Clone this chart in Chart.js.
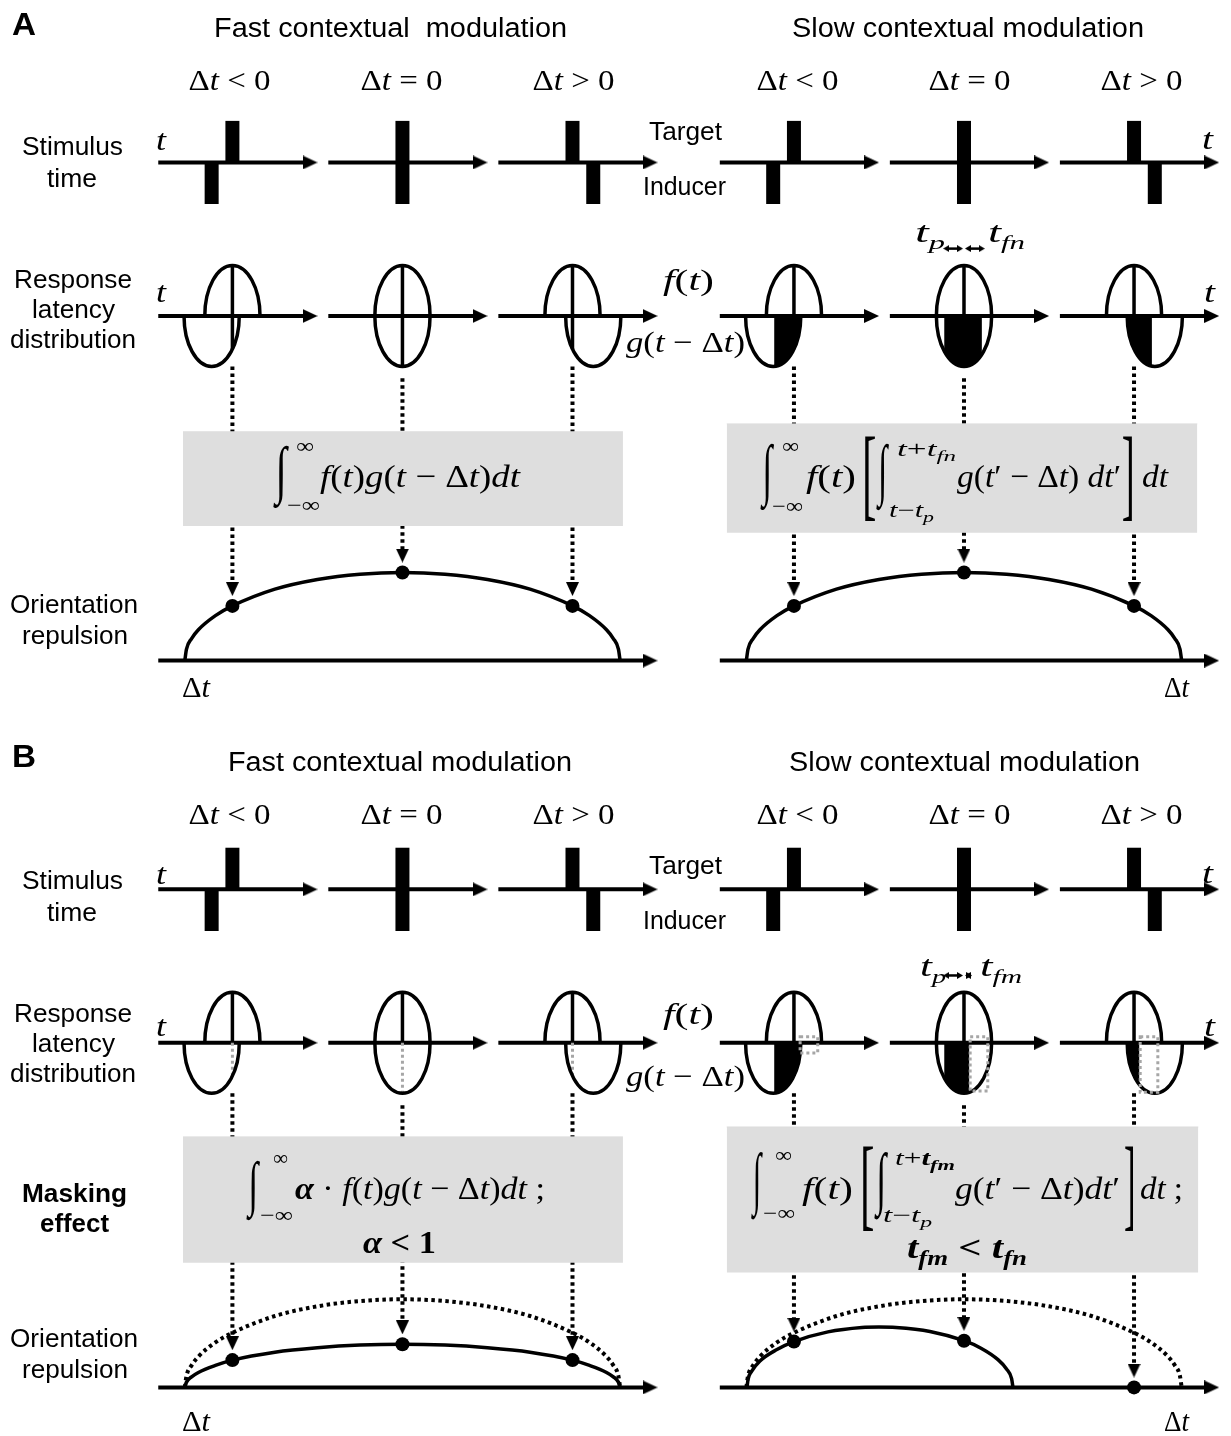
<!DOCTYPE html>
<html>
<head>
<meta charset="utf-8">
<script src="https://cdn.jsdelivr.net/npm/chart.js@4.4.1/dist/chart.umd.min.js"></script>
<style>
  html, body { margin: 0; padding: 0; background: #fff; }
  #wrap { position: relative; width: 1231px; height: 1436px; }
  #fig, #labels { position: absolute; left: 0; top: 0; }
  .sans { font-family: 'Liberation Sans', Arial, sans-serif; }
  .serif { font-family: 'Liberation Serif', 'Times New Roman', serif; }
  svg text { white-space: pre; }
</style>
</head>
<body>
<div id="wrap">
  <canvas id="fig" width="1231" height="1436" style="width:1231px;height:1436px"></canvas>
  <svg id="labels" width="1231" height="1436" xmlns="http://www.w3.org/2000/svg"></svg>
</div>
<script>
// ---- data ----
const deltaT = [-1, 0, 1];
const deltaTRel = ['&lt;', '=', '&gt;'];
const panelIds = ['A', 'B'];
const sideIds = ['fast', 'slow'];
const titles = {
  A: ['Fast contextual  modulation', 'Slow contextual modulation'],
  B: ['Fast contextual modulation', 'Slow contextual modulation']
};

// latency distributions f(t) and g(t - Δt): half width, in units of the target/inducer offset
const latencyHalfWidth = 1.33;
// integration window of the slow modulation (same units)
const tP = 0.95, tFn = 0.86, tFm = 0.25;

// orientation repulsion against Δt (Δt in condition steps)
const tuningDt  = [-1.28, -1.27, -1.24, -1.2, -1.1, -1.0, -0.75, -0.5, -0.25, 0, 0.25, 0.5, 0.75, 1.0, 1.1, 1.2, 1.24, 1.27, 1.28];
const tuningRep = [0, 0.13, 0.25, 0.35, 0.51, 0.62, 0.81, 0.92, 0.98, 1, 0.98, 0.92, 0.81, 0.62, 0.51, 0.35, 0.25, 0.13, 0];
const maskedFastRep = [0, 0.06, 0.12, 0.17, 0.25, 0.31, 0.40, 0.45, 0.48, 0.49, 0.48, 0.45, 0.40, 0.31, 0.25, 0.17, 0.12, 0.06, 0];
const maskedSlowDt  = [-1.276, -1.27, -1.25, -1.2, -1.1, -1.0, -0.8, -0.6, -0.5, -0.4, -0.2, 0, 0.1, 0.2, 0.25, 0.28, 0.288];
const maskedSlowRep = [0, 0.09, 0.18, 0.30, 0.43, 0.52, 0.63, 0.68, 0.685, 0.68, 0.635, 0.53, 0.445, 0.315, 0.21, 0.10, 0];
// repulsion read at the three conditions
const repAtDt = {
  A: { fast: [0.62, 1, 0.62], slow: [0.62, 1, 0.62] },
  B: { fast: [0.31, 0.49, 0.31], slow: [0.52, 0.53, 0] }
};

// ---- layout (figure pixels) ----
const L = {
  W: 1231, H: 1436,
  dy: { A: 0, B: 734 },
  col0: { fast: 228, slow: 796 }, colStep: 172,
  axL: 75, axR: 86,
  stimY: 157, barLen: 42, barW: 14,
  latY: 312, latRy: 51, tUnit: 21,
  repY: 660, repUnit: 89,
  tagY: 244,
  boxes: {
    A: { fast: [178, 623, 429, 524], slow: [728, 1204, 421, 531] },
    B: { fast: [178, 623, 1141, 1268], slow: [728, 1205, 1131, 1278] }
  }
};
const DOT = [3.5, 3.5];

function arrowImg(len, wid) {
  const c = document.createElement('canvas');
  c.width = len; c.height = wid;
  const g = c.getContext('2d');
  g.beginPath(); g.moveTo(0, 0); g.lineTo(len, wid / 2); g.lineTo(0, wid); g.closePath();
  g.fillStyle = '#000'; g.fill();
  return c;
}

const ds = [];
const line = (pts, o) => ds.push(Object.assign({
  type: 'line', data: pts, borderColor: '#000', borderWidth: 3.5, borderCapStyle: 'butt',
  pointRadius: 0, fill: false, tension: 0
}, o || {}));
const heads = { right: [], down: [], tagL: [], tagR: [] };
const dots = [];

panelIds.forEach(p => {
  const dy = L.dy[p];
  sideIds.forEach(s => {
    const cols = deltaT.map((d, i) => L.col0[s] + i * L.colStep);
    const mid = cols[1];
    const rep = repAtDt[p][s];

    // dotted guides from the latency row to the repulsion curve
    cols.forEach((c, i) => {
      const top = dy + L.latY + (deltaT[i] === 0 ? 63 : 51);
      const dotY = dy + L.repY - rep[i] * L.repUnit;
      const tip = dotY - 10;
      line([{ x: c, y: top }, { x: c, y: tip - 12 }], { borderWidth: 4, borderDash: DOT });
      heads.down.push({ x: c, y: tip - 7 });
      dots.push({ x: c, y: dotY });
    });

    // grey formula box
    const [bx0, bx1, by0, by1] = L.boxes[p][s];
    line([{ x: bx0, y: by0 }, { x: bx1, y: by0 }],
      { borderColor: '#dedede', borderWidth: 1, fill: { value: by1 }, backgroundColor: '#dedede' });

    // time axes
    [L.stimY, L.latY].forEach(ry => cols.forEach(c => {
      line([{ x: c - L.axL, y: dy + ry }, { x: c + L.axR - 8, y: dy + ry }], { borderWidth: 4 });
      heads.right.push({ x: c + L.axR - 7.5, y: dy + ry });
    }));
    line([{ x: cols[0] - L.axL, y: dy + L.repY }, { x: cols[2] + L.axR - 8, y: dy + L.repY }], { borderWidth: 4 });
    heads.right.push({ x: cols[2] + L.axR - 7.5, y: dy + L.repY });

    // stimulus bars: target up, inducer down shifted by Δt
    cols.forEach((c, i) => {
      const yAx = dy + L.stimY;
      line([{ x: c, y: yAx }, { x: c, y: yAx - L.barLen }], { borderWidth: L.barW });
      const ix = c + deltaT[i] * L.tUnit;
      line([{ x: ix, y: yAx }, { x: ix, y: yAx + L.barLen }], { borderWidth: L.barW });
    });

    // target peak line through the latency distributions
    cols.forEach((c, i) => {
      const yAx = dy + L.latY;
      line([{ x: c, y: yAx - L.latRy }, { x: c, y: yAx }]);
      const rx = latencyHalfWidth * L.tUnit, off = deltaT[i] * L.tUnit;
      const depth = Math.abs(off) < rx ? L.latRy * Math.sqrt(1 - (off / rx) ** 2) : 0;
      const greyed = p === 'B' && s === 'fast';
      line([{ x: c, y: yAx }, { x: c, y: yAx + depth }],
        greyed ? { borderColor: '#a6a6a6', borderDash: [3, 3], borderWidth: 3 } : {});
    });

    // repulsion curves
    const curve = (xs, ys) => xs.map((d, k) => ({ x: mid + d * L.colStep, y: dy + L.repY - ys[k] * L.repUnit }));
    if (p === 'A') {
      line(curve(tuningDt, tuningRep), { cubicInterpolationMode: 'monotone' });
    } else {
      line(curve(tuningDt, tuningRep), { cubicInterpolationMode: 'monotone', borderDash: DOT, borderWidth: 4 });
      if (s === 'fast') line(curve(tuningDt, maskedFastRep), { cubicInterpolationMode: 'monotone' });
      else line(curve(maskedSlowDt, maskedSlowRep), { cubicInterpolationMode: 'monotone' });
    }

    // small window arrows t_p <-> t_f
    if (s === 'slow') {
      const yT = dy + L.tagY;
      const a0 = mid - tP * L.tUnit - 1, a1 = mid - 1;
      const b0 = mid + 1, b1 = mid + (p === 'A' ? tFn : tFm) * L.tUnit + 3;
      [[a0, a1], [b0, b1]].forEach(([u0, u1]) => {
        line([{ x: u0 + 3, y: yT }, { x: u1 - 3, y: yT }], { borderWidth: 2.5 });
        heads.tagL.push({ x: u0 + 3, y: yT });
        heads.tagR.push({ x: u1 - 3, y: yT });
      });
    }
  });
});

ds.push({ type: 'scatter', data: dots, pointRadius: 7, pointBackgroundColor: '#000', pointBorderWidth: 0 });
ds.push({ type: 'scatter', data: heads.right, pointStyle: arrowImg(15, 14), pointRadius: 5 });
ds.push({ type: 'scatter', data: heads.down, pointStyle: arrowImg(14, 13), pointRotation: 90, pointRadius: 5 });
ds.push({ type: 'scatter', data: heads.tagR, pointStyle: arrowImg(6, 7), pointRadius: 3 });
ds.push({ type: 'scatter', data: heads.tagL, pointStyle: arrowImg(6, 7), pointRotation: 180, pointRadius: 3 });
ds.forEach((d, i) => { d.order = -i; });

// half ellipses of f and g, shaded overlap window for slow modulation
const latencyPlugin = {
  id: 'latencyShapes',
  afterDatasetsDraw(chart) {
    const { ctx } = chart, sx = chart.scales.x, sy = chart.scales.y;
    const rx = latencyHalfWidth * L.tUnit;
    ctx.save();
    panelIds.forEach(p => sideIds.forEach(s => deltaT.forEach((d, i) => {
      const c = L.col0[s] + i * L.colStep, g = c + d * L.tUnit, cy = L.dy[p] + L.latY;
      const X = sx.getPixelForValue(c), G = sx.getPixelForValue(g), Y = sy.getPixelForValue(cy);
      const RX = sx.getPixelForValue(c + rx) - X, RY = sy.getPixelForValue(cy + L.latRy) - Y;
      if (s === 'slow') {
        const w0 = sx.getPixelForValue(c - tP * L.tUnit);
        const w1 = sx.getPixelForValue(c + (p === 'A' ? tFn : tFm) * L.tUnit);
        ctx.save();
        ctx.beginPath(); ctx.rect(w0, Y, w1 - w0, RY + 4); ctx.clip();
        ctx.beginPath(); ctx.ellipse(G, Y, RX, RY, 0, 0, Math.PI); ctx.closePath();
        ctx.fillStyle = '#000'; ctx.fill();
        ctx.restore();
      }
      ctx.lineWidth = 3.5; ctx.strokeStyle = '#000'; ctx.setLineDash([]);
      ctx.beginPath(); ctx.ellipse(X, Y, RX, RY, 0, Math.PI, 2 * Math.PI); ctx.stroke();
      ctx.beginPath(); ctx.ellipse(G, Y, RX, RY, 0, 0, Math.PI); ctx.stroke();
      if (p === 'B' && s === 'slow') {
        const m0 = c + tFm * L.tUnit + 1, m1 = c + tFn * L.tUnit + 6;
        const dx = (g >= m0 && g <= m1) ? 0 : Math.min(Math.abs(m0 - g), Math.abs(m1 - g));
        const depth = dx < rx ? L.latRy * Math.sqrt(1 - (dx / rx) ** 2) : 0;
        const R0 = sx.getPixelForValue(m0), R1 = sx.getPixelForValue(m1);
        const T0 = sy.getPixelForValue(cy - 6), T1 = sy.getPixelForValue(cy + depth - 1);
        ctx.strokeStyle = '#a6a6a6'; ctx.lineWidth = 3; ctx.setLineDash([3, 3]);
        ctx.strokeRect(R0, T0, R1 - R0, T1 - T0);
      }
    })));
    ctx.restore();
  }
};

new Chart(document.getElementById('fig'), {
  type: 'scatter',
  data: { datasets: ds },
  options: {
    responsive: false, animation: false, devicePixelRatio: 1, events: [],
    layout: { padding: 0 },
    scales: {
      x: { type: 'linear', min: 0, max: L.W, display: false },
      y: { type: 'linear', min: 0, max: L.H, reverse: true, display: false }
    },
    plugins: { legend: { display: false }, tooltip: { enabled: false } }
  },
  plugins: [latencyPlugin]
});

// ---- text ----
const svg = document.getElementById('labels');
const NS = 'http://www.w3.org/2000/svg';
const SERIF = '"Liberation Serif"';
function addText(markup, x0, x1, base, size, cls, weight) {
  const t = document.createElementNS(NS, 'text');
  t.setAttribute('x', x0); t.setAttribute('y', base);
  t.setAttribute('font-size', size);
  t.setAttribute('class', cls);
  if (weight) t.setAttribute('font-weight', weight);
  if (x1 != null) { t.setAttribute('textLength', x1 - x0); t.setAttribute('lengthAdjust', 'spacingAndGlyphs'); }
  t.innerHTML = markup;
  svg.appendChild(t);
}
const sans = (s, x0, x1, b, fs, w) => addText(s, x0, x1, b, fs, 'sans', w);
const math = (s, x0, x1, b, fs, w) => addText(s, x0, x1, b, fs, 'serif', w);
const mc = document.createElement('canvas').getContext('2d');
function glyph(ch, x0, x1, y0, y1) {
  mc.font = '100px ' + SERIF;
  const m = mc.measureText(ch);
  const l = m.actualBoundingBoxLeft, r = m.actualBoundingBoxRight;
  const a = m.actualBoundingBoxAscent, d = m.actualBoundingBoxDescent;
  const sx = (x1 - x0) / (l + r), sy = (y1 - y0) / (a + d);
  const t = document.createElementNS(NS, 'text');
  t.setAttribute('transform', `translate(${x0 + sx * l},${y0 + sy * a}) scale(${sx},${sy})`);
  t.setAttribute('font-size', 100);
  t.setAttribute('class', 'serif');
  t.textContent = ch;
  svg.appendChild(t);
}
const it = s => `<tspan font-style="italic">${s}</tspan>`;
const bit = s => `<tspan font-style="italic" font-weight="bold">${s}</tspan>`;
const sub = (s, dy, fs, bold) => `<tspan dy="${dy}" font-size="${fs}" font-style="italic"${bold ? ' font-weight="bold"' : ''}>${s}</tspan>`;

sans('A', 12, 36, 35, 31, 'bold');
sans('B', 12, 36, 767, 31, 'bold');
sans(titles.A[0], 214, 567, 37, 27);
sans(titles.A[1], 792, 1144, 37, 27);
sans(titles.B[0], 228, 572, 771, 27);
sans(titles.B[1], 789, 1140, 771, 27);

panelIds.forEach(p => {
  const dy = L.dy[p];
  sideIds.forEach(s => deltaT.forEach((d, i) => {
    const c = L.col0[s] + i * L.colStep + 1.5;
    math(`Δ${it('t')} ${deltaTRel[i]} 0`, c - 41, c + 41, dy + 90, 29);
  }));
  sans('Stimulus', 22, 123, dy + 155, 25.5);
  sans('time', 47, 97, dy + 187, 25.5);
  sans('Target', 649, 722, dy + 140, 25);
  sans('Inducer', 643, 726, dy + 195, 25);
  sans('Response', 14, 132, dy + 288, 25.5);
  sans('latency', 32, 115, dy + 318, 25.5);
  sans('distribution', 10, 136, dy + 348, 25.5);
  sans('Orientation', 10, 138, dy + 613, 25.5);
  sans('repulsion', 22, 128, dy + 644, 25.5);
  math(it('t'), 156, 166, dy + 150, 30);
  math(it('t'), 1202, 1213, dy + 149, 30);
  math(it('t'), 156, 166, dy + 302, 30);
  math(it('t'), 1204, 1215, dy + 302, 30);
  math(`${it('f')}(${it('t')})`, 663, 714, dy + 290, 30);
  math(`${it('g')}(${it('t')} − Δ${it('t')})`, 626, 745, dy + 352, 30);
  math(`${it('t')}${sub('p', 7, 19)}`, p === 'A' ? 915 : 920, p === 'A' ? 945 : 946, dy + 242, 29);
  if (p === 'A') math(`${it('t')}${sub('fn', 7, 19)}`, 988, 1025, dy + 242, 29);
  else math(`${it('t')}${sub('fm', 7, 19)}`, 980, 1022, dy + 242, 29);
  math(`Δ${it('t')}`, 182, 210, dy + 697, 30);
  math(`Δ${it('t')}`, 1164, 1189, dy + 697, 30);
});
sans('Masking', 22, 127, 1202, 25.5, 'bold');
sans('effect', 40, 109, 1232, 25.5, 'bold');

// formula A, fast
glyph('∫', 273, 289, 445, 508);
math('∞', 296, 314, 453, 21);
math('−∞', 287, 320, 512, 21);
math(`${it('f')}(${it('t')})${it('g')}(${it('t')} − Δ${it('t')})${it('d')}${it('t')}`, 320, 520, 487, 32);

// formula A, slow
glyph('∫', 760, 774, 443, 510);
math('∞', 782, 799, 453, 21);
math('−∞', 772, 803, 513, 21);
math(`${it('f')}(${it('t')})`, 806, 856, 487, 32);
glyph('[', 865, 875, 435, 520);
glyph('∫', 876, 889, 443, 510);
math(`${it('t')}+${it('t')}${sub('fn', 5, 15)}`, 897, 956, 456, 21);
math(`${it('t')}−${it('t')}${sub('p', 5, 15)}`, 889, 934, 517, 21);
math(`${it('g')}(${it('t')}′ − Δ${it('t')}) ${it('d')}${it('t')}′`, 957, 1121, 487, 32);
glyph(']', 1123, 1132, 435, 520);
math(`${it('d')}${it('t')}`, 1142, 1168, 487, 32);

// formula B, fast
glyph('∫', 246, 260, 1160, 1220);
math('∞', 273, 288, 1165, 21);
math('−∞', 260, 293, 1222, 21);
math(`${bit('α')} · ${it('f')}(${it('t')})${it('g')}(${it('t')} − Δ${it('t')})${it('d')}${it('t')} ;`, 295, 545, 1199, 32);
math(`${bit('α')} &lt; 1`, 363, 436, 1253, 32, 'bold');

// formula B, slow
glyph('∫', 751, 763, 1152, 1220);
math('∞', 775, 792, 1162, 21);
math('−∞', 763, 795, 1220, 21);
math(`${it('f')}(${it('t')})`, 802, 853, 1199, 32);
glyph('[', 863, 873, 1145, 1230);
glyph('∫', 874, 888, 1152, 1220);
math(`${it('t')}+${bit('t')}${sub('fm', 5, 15, true)}`, 895, 955, 1165, 21);
math(`${it('t')}−${it('t')}${sub('p', 5, 15)}`, 883, 932, 1222, 21);
math(`${it('g')}(${it('t')}′ − Δ${it('t')})${it('d')}${it('t')}′`, 955, 1120, 1199, 32);
glyph(']', 1125, 1133, 1145, 1230);
math(`${it('d')}${it('t')} ;`, 1140, 1183, 1199, 32);
math(`${bit('t')}${sub('fm', 7, 21, true)}<tspan dy="-7"> &lt; </tspan>${bit('t')}${sub('fn', 7, 21, true)}`, 907, 1027, 1258, 32, 'bold');
</script>
</body>
</html>
